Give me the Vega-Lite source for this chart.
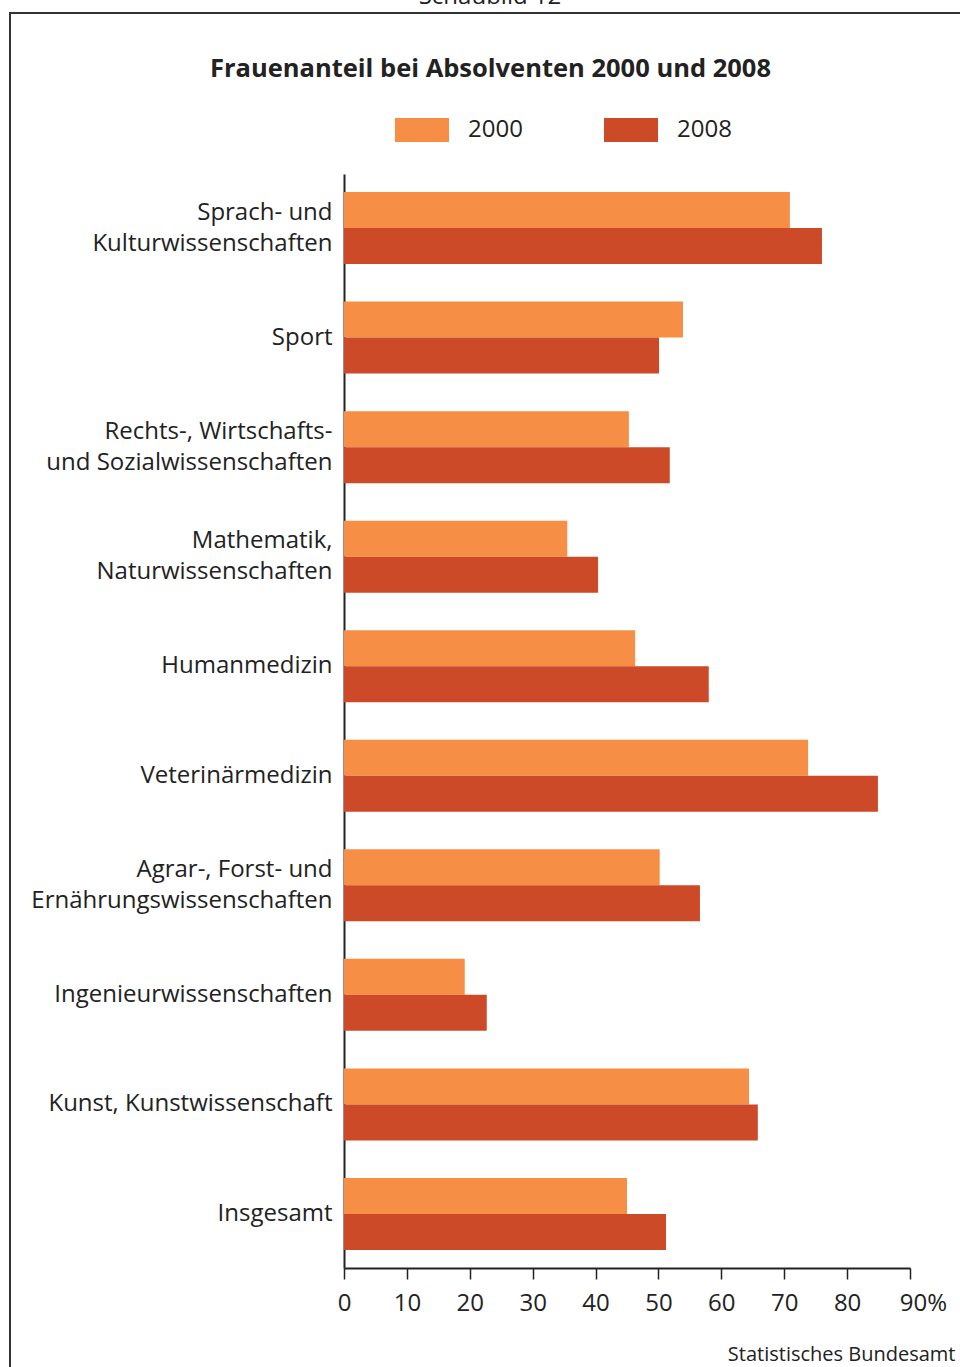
{
  "$schema": "https://vega.github.io/schema/vega-lite/v6.json",
  "autosize": {"type": "none"},
  "padding": {"left": 10, "top": 13, "right": 0, "bottom": 0},
  "width": 960,
  "height": 1360,
  "background": "white",
  "config": {
    "font": "Open Sans",
    "view": {"stroke": "#333333", "strokeWidth": 2}
  },
  "title": {
    "text": "Schaubild 12",
    "orient": "top",
    "anchor": "middle",
    "frame": "group",
    "fontSize": 24,
    "fontWeight": "normal",
    "color": "#222222",
    "baseline": "alphabetic",
    "offset": -15
  },
  "data": {
    "values": [
      {"cat": "Sprach- und|Kulturwissenschaften", "year": "2000", "value": 70.9},
      {"cat": "Sprach- und|Kulturwissenschaften", "year": "2008", "value": 76.0},
      {"cat": "Sport", "year": "2000", "value": 53.9},
      {"cat": "Sport", "year": "2008", "value": 50.1},
      {"cat": "Rechts-, Wirtschafts-|und Sozialwissenschaften", "year": "2000", "value": 45.3},
      {"cat": "Rechts-, Wirtschafts-|und Sozialwissenschaften", "year": "2008", "value": 51.8},
      {"cat": "Mathematik,|Naturwissenschaften", "year": "2000", "value": 35.5},
      {"cat": "Mathematik,|Naturwissenschaften", "year": "2008", "value": 40.4},
      {"cat": "Humanmedizin", "year": "2000", "value": 46.3},
      {"cat": "Humanmedizin", "year": "2008", "value": 58.0},
      {"cat": "Veterinärmedizin", "year": "2000", "value": 73.8},
      {"cat": "Veterinärmedizin", "year": "2008", "value": 84.9},
      {"cat": "Agrar-, Forst- und|Ernährungswissenschaften", "year": "2000", "value": 50.2},
      {"cat": "Agrar-, Forst- und|Ernährungswissenschaften", "year": "2008", "value": 56.6},
      {"cat": "Ingenieurwissenschaften", "year": "2000", "value": 19.2},
      {"cat": "Ingenieurwissenschaften", "year": "2008", "value": 22.7},
      {"cat": "Kunst, Kunstwissenschaft", "year": "2000", "value": 64.4},
      {"cat": "Kunst, Kunstwissenschaft", "year": "2008", "value": 65.8},
      {"cat": "Insgesamt", "year": "2000", "value": 45.0},
      {"cat": "Insgesamt", "year": "2008", "value": 51.2}
    ]
  },
  "mark": {"type": "bar"},
  "encoding": {
    "y": {
      "field": "cat",
      "type": "nominal",
      "sort": null,
      "scale": {"range": [161, 1255], "paddingInner": 0.343, "paddingOuter": 0.165},
      "axis": {
        "orient": "left",
        "offset": -334,
        "title": "Frauenanteil bei Absolventen 2000 und 2008",
        "titleAngle": 0,
        "titleX": 146,
        "titleY": 63,
        "titleAlign": "center",
        "titleBaseline": "alphabetic",
        "titleFontSize": 25.5,
        "titleFontWeight": "bold",
        "titleColor": "#222222",
        "ticks": false,
        "domainColor": "#222222",
        "domainWidth": 2,
        "labelFontSize": 24,
        "labelColor": "#222222",
        "labelPadding": 12,
        "labelLimit": 0,
        "labelLineHeight": 31,
        "labelBaseline": "middle",
        "labelExpr": "split(datum.label, '|')",
        "labelOffset": {"condition": {"test": "indexof(datum.value, '|') >= 0", "value": -15.5}, "value": 0}
      }
    },
    "yOffset": {
      "field": "year",
      "type": "nominal",
      "scale": {"paddingInner": 0, "paddingOuter": 0}
    },
    "x": {
      "field": "value",
      "type": "quantitative",
      "scale": {"domain": [0, 90], "range": [334, 900], "nice": false},
      "axis": {
        "orient": "bottom",
        "offset": -105,
        "values": [0, 10, 20, 30, 40, 50, 60, 70, 80, 90],
        "grid": false,
        "tickSize": 11,
        "tickWidth": 1.5,
        "tickColor": "#222222",
        "domainColor": "#222222",
        "domainWidth": 2,
        "labelFontSize": 24,
        "labelColor": "#222222",
        "labelPadding": 12,
        "labelExpr": "datum.value == 90 ? '90%' : datum.label",
        "labelFlush": false,
        "labelOverlap": false,
        "labelOffset": {"condition": {"test": "datum.value == 90", "value": 13}, "value": 0},
        "title": "Statistisches Bundesamt",
        "titleX": 945,
        "titleY": 92,
        "titleAlign": "right",
        "titleBaseline": "alphabetic",
        "titleFontSize": 20,
        "titleFontWeight": "normal",
        "titleColor": "#222222"
      }
    },
    "color": {
      "field": "year",
      "type": "nominal",
      "scale": {"domain": ["2000", "2008"], "range": ["#F68F45", "#CC4A28"]},
      "legend": {
        "orient": "none",
        "legendX": 385,
        "legendY": 90,
        "direction": "horizontal",
        "title": null,
        "symbolType": "M-1,-0.444H1V0.444H-1Z",
        "symbolSize": 2916,
        "symbolStrokeWidth": 0,
        "symbolOpacity": 1,
        "labelFontSize": 24,
        "labelColor": "#222222",
        "labelOffset": 19,
        "columnPadding": 81,
        "labelBaseline": "middle"
      }
    }
  }
}
